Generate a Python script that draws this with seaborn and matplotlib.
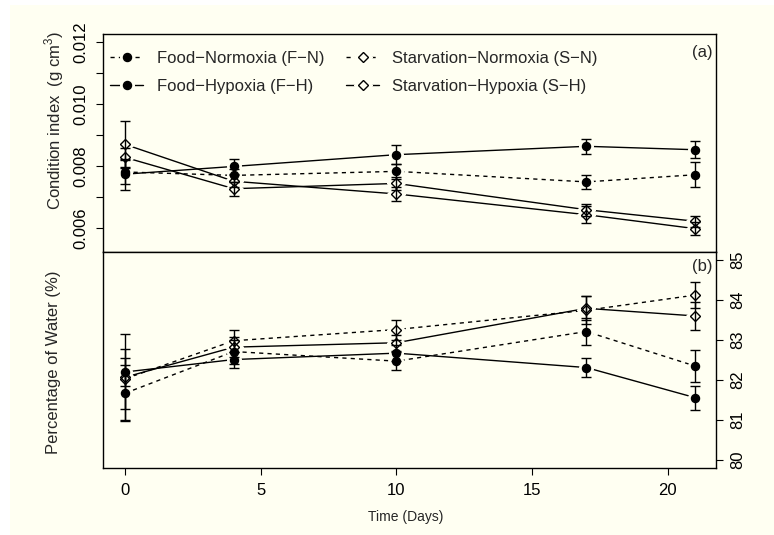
import matplotlib
matplotlib.use("Agg")
import matplotlib.pyplot as plt
from matplotlib.lines import Line2D
from matplotlib.patches import Rectangle
from matplotlib.legend_handler import HandlerTuple
import seaborn as sns

# sampling days
days = [0, 4, 10, 17, 21]

# panel (a) condition index (g cm^3), mean and SE
ci_fn = [0.00781, 0.00770, 0.00783, 0.00749, 0.00772]
ci_fn_se = [0.00040, 0.00020, 0.00025, 0.00023, 0.00040]
ci_fh = [0.00774, 0.00799, 0.00837, 0.00864, 0.00853]
ci_fh_se = [0.00050, 0.00025, 0.00030, 0.00024, 0.00027]
ci_sn = [0.00828, 0.00727, 0.00744, 0.00659, 0.00622]
ci_sn_se = [0.00030, 0.00022, 0.00020, 0.00020, 0.00018]
ci_sh = [0.00870, 0.00751, 0.00710, 0.00643, 0.00598]
ci_sh_se = [0.00075, 0.00020, 0.00022, 0.00027, 0.00020]

# panel (b) percentage of water, mean and SE
w_fn = [81.67, 82.71, 82.47, 83.21, 82.35]
w_fn_se = [0.70, 0.30, 0.22, 0.33, 0.41]
w_fh = [82.20, 82.51, 82.67, 82.31, 81.56]
w_fh_se = [0.35, 0.20, 0.20, 0.23, 0.30]
w_sn = [82.03, 82.98, 83.26, 83.74, 84.12]
w_sn_se = [0.75, 0.28, 0.25, 0.35, 0.32]
w_sh = [82.07, 82.82, 82.93, 83.79, 83.60]
w_sh_se = [1.07, 0.25, 0.20, 0.30, 0.35]

labels = ["Food\u2212Normoxia (F\u2212N)", "Food\u2212Hypoxia (F\u2212H)",
          "Starvation\u2212Normoxia (S\u2212N)", "Starvation\u2212Hypoxia (S\u2212H)"]

BG = "#FFFFF2"
DASH = (0, (3, 3))
MS_O = 5.8
MS_D = 4.8

sns.set_theme(style="ticks")
plt.rcParams['font.family'] = ['Liberation Sans', 'DejaVu Sans']
plt.rcParams['mathtext.fontset'] = 'custom'
plt.rcParams['mathtext.rm'] = 'Liberation Sans'
plt.rcParams['axes.unicode_minus'] = True

fig = plt.figure(figsize=(7.74, 5.35), dpi=100, facecolor="white")
fig.patches.append(Rectangle((10 / 774, 0), 1 - 10 / 774, 1 - 5 / 535,
                             transform=fig.transFigure, facecolor=BG,
                             edgecolor="none", zorder=-10))

ax1 = fig.add_axes([103 / 774, 1 - 251.5 / 535, 613 / 774, 217.5 / 535])
ax2 = fig.add_axes([103 / 774, 1 - 468 / 535, 613 / 774, 216.5 / 535])


def draw_series(ax, vals, se, marker, ls):
    ms = MS_O if marker == "o" else MS_D
    fc = "black" if marker == "o" else "none"
    sns.lineplot(x=days, y=vals, ax=ax, color="black", linewidth=1.0,
                 linestyle=ls, zorder=2, legend=False)
    # gap around the points, like R type="b"
    ax.plot(days, vals, ls="none", marker=marker, ms=ms + 4, mfc=BG, mec=BG,
            zorder=3)
    ax.errorbar(days, vals, yerr=se, fmt="none", ecolor="black",
                elinewidth=1.0, capsize=3.6, capthick=1.0, zorder=4)
    ax.plot(days, vals, ls="none", marker=marker, ms=ms, mfc=fc, mec="black",
            mew=1.0, zorder=5)


draw_series(ax1, ci_fn, ci_fn_se, "o", DASH)
draw_series(ax1, ci_fh, ci_fh_se, "o", "-")
draw_series(ax1, ci_sn, ci_sn_se, "D", "-")
draw_series(ax1, ci_sh, ci_sh_se, "D", "-")

draw_series(ax2, w_fn, w_fn_se, "o", DASH)
draw_series(ax2, w_fh, w_fh_se, "o", "-")
draw_series(ax2, w_sn, w_sn_se, "D", DASH)
draw_series(ax2, w_sh, w_sh_se, "D", "-")

for ax in (ax1, ax2):
    ax.set_facecolor(BG)
    ax.set_xlim(-0.82, 21.78)
    ax.set_xlabel("")
    ax.set_ylabel("")
    for sp in ax.spines.values():
        sp.set_visible(True)
        sp.set_color("black")
        sp.set_linewidth(1.0)
    ax.tick_params(direction="out", length=5, width=0.8, color="black",
                   labelsize=12, pad=5.5, labelcolor="black")

# top panel
ax1.set_ylim(0.00524, 0.01227)
ax1.set_yticks([0.006, 0.007, 0.008, 0.009, 0.010, 0.011, 0.012])
ax1.set_yticklabels(["0.006", "", "0.008", "", "0.010", "", "0.012"])
ax1.tick_params(axis="x", bottom=False, labelbottom=False)
ax1.tick_params(axis="y", labelrotation=90)
for lab in ax1.get_yticklabels():
    lab.set_va("center")

# bottom panel
ax2.set_ylim(79.8, 85.21)
ax2.set_xticks([0, 5, 10, 15, 20])
ax2.yaxis.tick_right()
ax2.set_yticks([80, 81, 82, 83, 84, 85])
ax2.tick_params(axis="y", labelrotation=90)
for lab in ax2.get_yticklabels():
    lab.set_va("center")

# legend
handles = []
for marker, ls in [("o", DASH), ("o", "-"), ("D", DASH), ("D", "-")]:
    ms = MS_O if marker == "o" else MS_D
    fc = "black" if marker == "o" else "none"
    h_line = Line2D([], [], color="black", lw=1.0, ls=ls)
    h_gap = Line2D([], [], ls="none", marker=marker, ms=ms + 4, mfc=BG, mec=BG)
    h_pt = Line2D([], [], ls="none", marker=marker, ms=ms, mfc=fc, mec="black")
    handles.append((h_line, h_gap, h_pt))

ax1.legend(handles, labels, ncol=2, loc="upper left",
           bbox_to_anchor=(7 / 613, 0.922), borderaxespad=0, borderpad=0,
           frameon=False, fontsize=12, handlelength=2.0, handletextpad=0.8,
           columnspacing=1.3, labelspacing=0.77,
           handler_map={tuple: HandlerTuple(ndivide=1)})

fig.text(702 / 774, 1 - 52 / 535, "(a)", ha="center", va="center", fontsize=12)
fig.text(702 / 774, 1 - 266 / 535, "(b)", ha="center", va="center", fontsize=12)
fig.text(54 / 774, 1 - 120 / 535, r"Condition index  (g cm$^{3}$)",
         rotation=90, ha="center", va="center", fontsize=12)
fig.text(54 / 774, 1 - 362 / 535, "Percentage of Water (%)",
         rotation=90, ha="center", va="center", fontsize=12)
fig.text(406 / 774, 1 - 517 / 535, "Time (Days)", ha="center", va="center",
         fontsize=10)

fig.savefig("out.png", dpi=100, facecolor="white")
